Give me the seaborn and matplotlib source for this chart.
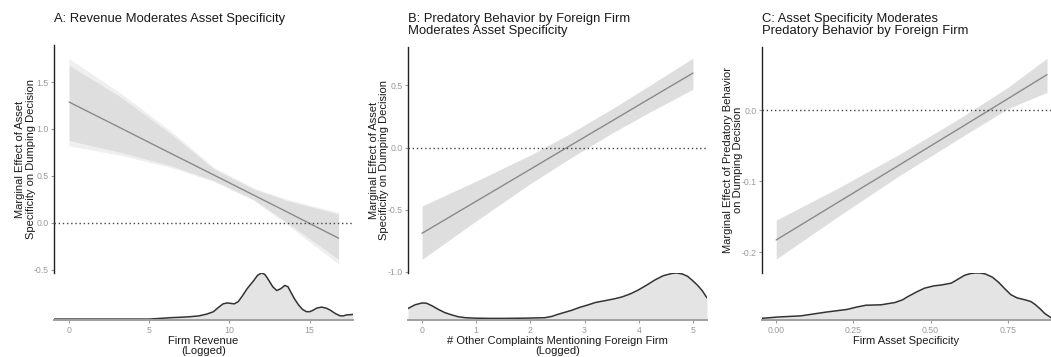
import numpy as np
import pandas as pd
import seaborn as sns
import matplotlib.pyplot as plt

sns.set_theme(style="white")
plt.rcParams['font.family'] = ['Liberation Sans', 'DejaVu Sans']

# ---- Panel A: revenue moderates asset specificity ----
a_x = [0, 3.22, 6.33, 9.03, 11.5, 13.6, 16.8]
a_effect = [1.287, 1.010, 0.741, 0.509, 0.296, 0.115, -0.164]
a_upper = [1.68, 1.34, 0.95, 0.574, 0.36, 0.235, 0.093]
a_lower = [0.877, 0.75, 0.61, 0.45, 0.25, 0.003, -0.39]
a_upper_outer = [1.75, 1.38, 0.98, 0.59, 0.372, 0.25, 0.11]
a_lower_outer = [0.82, 0.72, 0.59, 0.44, 0.24, -0.02, -0.44]
a_dens_x = [-1.2, 5.0, 5.7, 6.3, 7.0, 7.5, 8.1, 8.6, 9.0, 9.3, 9.6, 9.85, 10.1,
            10.3, 10.55, 10.8, 11.1, 11.5, 11.75, 12.0, 12.2, 12.4, 12.7, 12.95,
            13.2, 13.45, 13.65, 13.8, 14.05, 14.3, 14.55, 14.8, 15.0, 15.2, 15.45,
            15.75, 16.05, 16.3, 16.6, 16.9, 17.1, 17.3, 17.7]
a_dens_y = [0.0, 0.0, 0.015, 0.03, 0.04, 0.05, 0.07, 0.11, 0.16, 0.25, 0.33, 0.35,
            0.34, 0.33, 0.38, 0.5, 0.66, 0.83, 0.95, 1.0, 0.97, 0.87, 0.7, 0.62,
            0.66, 0.73, 0.70, 0.6, 0.44, 0.31, 0.21, 0.16, 0.16, 0.19, 0.24,
            0.26, 0.235, 0.19, 0.12, 0.07, 0.07, 0.09, 0.1]

# ---- Panel B: predatory behavior moderates asset specificity ----
b_x = [0, 1, 2, 2.7, 3.5, 4.2, 5]
b_effect = [-0.69, -0.432, -0.174, 0.007, 0.213, 0.394, 0.60]
b_upper = [-0.47, -0.27, -0.06, 0.105, 0.31, 0.50, 0.72]
b_lower = [-0.90, -0.59, -0.29, -0.095, 0.115, 0.285, 0.47]
b_dens_x = [-0.26, -0.13, 0.0, 0.08, 0.18, 0.3, 0.42, 0.55, 0.67, 0.8, 0.98,
            1.25, 1.53, 1.9, 2.27, 2.4, 2.5, 2.63, 2.76, 2.9, 3.07, 3.2, 3.38,
            3.55, 3.69, 3.85, 3.99, 4.15, 4.3, 4.45, 4.61, 4.7, 4.8, 4.9, 4.98,
            5.08, 5.17, 5.26]
b_dens_y = [0.23, 0.31, 0.35, 0.345, 0.29, 0.21, 0.14, 0.09, 0.05, 0.03, 0.02,
            0.015, 0.015, 0.02, 0.03, 0.06, 0.1, 0.145, 0.19, 0.25, 0.31, 0.36,
            0.4, 0.44, 0.48, 0.55, 0.63, 0.74, 0.85, 0.94, 0.99, 1.0, 0.98, 0.93,
            0.85, 0.74, 0.62, 0.46]

# ---- Panel C: asset specificity moderates predatory behavior ----
c_x = [0, 0.2, 0.4, 0.6, 0.75, 0.877]
c_effect = [-0.183, -0.130, -0.077, -0.024, 0.016, 0.050]
c_upper = [-0.155, -0.11, -0.062, -0.01, 0.032, 0.073]
c_lower = [-0.21, -0.15, -0.092, -0.038, 0.002, 0.025]
c_dens_x = [-0.048, 0.006, 0.08, 0.16, 0.23, 0.26, 0.29, 0.34, 0.385, 0.41,
            0.427, 0.455, 0.48, 0.51, 0.535, 0.567, 0.59, 0.61, 0.63, 0.645,
            0.66, 0.677, 0.70, 0.72, 0.74, 0.76, 0.78, 0.805, 0.825, 0.84,
            0.855, 0.87, 0.89]
c_dens_y = [0.015, 0.045, 0.07, 0.15, 0.21, 0.26, 0.30, 0.31, 0.36, 0.42,
            0.49, 0.59, 0.67, 0.72, 0.74, 0.78, 0.87, 0.95, 0.99, 1.0,
            1.0, 0.98, 0.91, 0.80, 0.66, 0.53, 0.46, 0.42, 0.38, 0.31,
            0.22, 0.12, 0.03]

W, H = 1051, 357
fig = plt.figure(figsize=(W / 100, H / 100), dpi=100)


def box(l, t, r, b):
    return [l / W, 1 - b / H, (r - l) / W, (b - t) / H]


panels = [
    dict(left=54, right=353, top=45, title="A: Revenue Moderates Asset Specificity",
         ylabel="Marginal Effect of Asset\nSpecificity on Dumping Decision",
         xlabel="Firm Revenue\n(Logged)",
         x=a_x, eff=a_effect, up=a_upper, lo=a_lower,
         up2=a_upper_outer, lo2=a_lower_outer,
         dx=a_dens_x, dy=a_dens_y, xlim=(-0.94, 17.7), ylim=(-0.535, 1.895),
         yticks=[-0.5, 0.0, 0.5, 1.0, 1.5], yfmt="{:.1f}",
         xticks=[0, 5, 10, 15], xfmt="{:g}"),
    dict(left=408, right=707, top=47,
         title="B: Predatory Behavior by Foreign Firm\nModerates Asset Specificity",
         ylabel="Marginal Effect of Asset\nSpecificity on Dumping Decision",
         xlabel="# Other Complaints Mentioning Foreign Firm\n(Logged)",
         x=b_x, eff=b_effect, up=b_upper, lo=b_lower, up2=None, lo2=None,
         dx=b_dens_x, dy=b_dens_y, xlim=(-0.26, 5.26), ylim=(-1.01, 0.81),
         yticks=[-1.0, -0.5, 0.0, 0.5], yfmt="{:.1f}",
         xticks=[0, 1, 2, 3, 4, 5], xfmt="{:g}"),
    dict(left=762, right=1051, top=47,
         title="C: Asset Specificity Moderates\nPredatory Behavior by Foreign Firm",
         ylabel="Marginal Effect of Predatory Behavior\non Dumping Decision",
         xlabel="Firm Asset Specificity",
         x=c_x, eff=c_effect, up=c_upper, lo=c_lower, up2=None, lo2=None,
         dx=c_dens_x, dy=c_dens_y, xlim=(-0.046, 0.89), ylim=(-0.2296, 0.089),
         yticks=[-0.2, -0.1, 0.0], yfmt="{:.1f}",
         xticks=[0.0, 0.25, 0.5, 0.75], xfmt="{:.2f}"),
]

tick_color = "#9a9a9a"
text_color = "#1a1a1a"

for p in panels:
    ax = fig.add_axes(box(p["left"], p["top"], p["right"], 273))
    axd = fig.add_axes(box(p["left"], 273, p["right"], 320), sharex=ax)

    # confidence ribbon and marginal-effect line
    if p["up2"] is not None:
        ax.fill_between(p["x"], p["lo2"], p["up2"], color="#efefef", lw=0, zorder=1)
    ax.fill_between(p["x"], p["lo"], p["up"], color="#dedede", lw=0, zorder=2)
    line_df = pd.DataFrame({"x": p["x"], "effect": p["eff"]})
    sns.lineplot(data=line_df, x="x", y="effect", ax=ax, color="#8a8a8a",
                 lw=1.0, zorder=3)
    ax.axhline(0, color="#444444", lw=1.0, ls=(0, (1, 2)), zorder=4)

    ax.set_xlim(*p["xlim"])
    ax.set_ylim(*p["ylim"])
    ax.set_yticks(p["yticks"])
    ax.set_yticklabels([p["yfmt"].format(v) for v in p["yticks"]])
    ax.set_xlabel("")
    ax.set_ylabel(p["ylabel"], fontsize=8.0, color=text_color, labelpad=-1.5,
                  linespacing=1.1)
    for s in ["top", "right", "bottom"]:
        ax.spines[s].set_visible(False)
    ax.spines["left"].set_color("#222222")
    ax.spines["left"].set_linewidth(1.0)
    ax.tick_params(axis="y", length=2.5, width=0.8, color=tick_color,
                   labelcolor=tick_color, labelsize=6.3, pad=1.5, left=True)
    ax.tick_params(axis="x", bottom=False, labelbottom=False)
    ax.patch.set_alpha(0)

    # distribution of the moderator
    dens_df = pd.DataFrame({"x": p["dx"], "density": p["dy"]})
    axd.fill_between(p["dx"], 0, p["dy"], color="#e4e4e4", lw=0)
    sns.lineplot(data=dens_df, x="x", y="density", ax=axd, color="#333333", lw=1.1)
    axd.set_ylim(-0.02, 1.0)
    axd.set_yticks([])
    axd.set_ylabel("")
    for s in ["top", "right", "left"]:
        axd.spines[s].set_visible(False)
    axd.spines["bottom"].set_color("#a0a0a0")
    axd.spines["bottom"].set_linewidth(1.4)
    axd.set_xticks(p["xticks"])
    axd.set_xticklabels([p["xfmt"].format(v) for v in p["xticks"]])
    axd.tick_params(axis="x", length=2.5, width=0.8, color=tick_color,
                    labelcolor=tick_color, labelsize=6.3, pad=1.5, bottom=True)
    axd.set_xlabel(p["xlabel"], fontsize=8.0, color=text_color, labelpad=1,
                   linespacing=1.0)
    axd.set_xlim(*p["xlim"])
    axd.patch.set_alpha(0)

    fig.text(p["left"] / W, 1 - 13 / H, p["title"], fontsize=9.4, color=text_color,
             ha="left", va="top", linespacing=1.0)

fig.savefig("out.png", dpi=100)
